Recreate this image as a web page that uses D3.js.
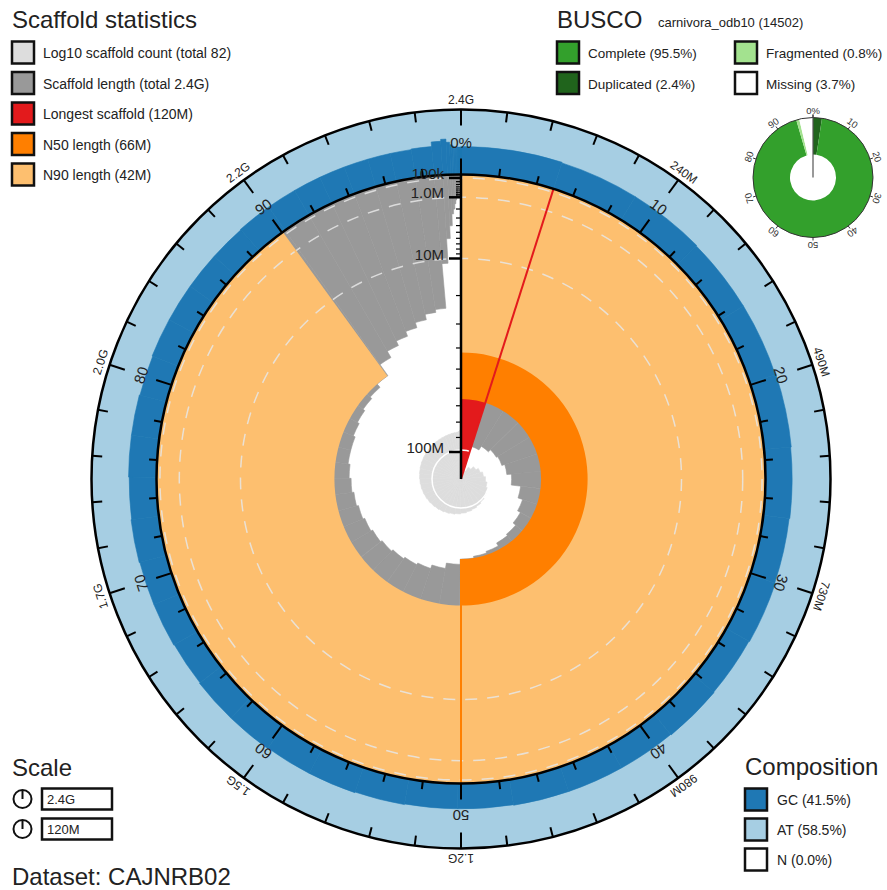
<!DOCTYPE html>
<html><head><meta charset="utf-8">
<script src="https://cdn.jsdelivr.net/npm/d3@7"></script>
<style>
body{margin:0;background:#fff}
text{font-family:"Liberation Sans",Arial,Helvetica,sans-serif}
</style>
</head><body>
<svg id="chart" width="887" height="890"></svg>
<script>
// ---------------- DATA ----------------
// scaffold lengths (Mb), sorted longest first (82 scaffolds, total ~2.44 Gb)
const scaffoldLengthsMb = [120,95,92,90,89,87,84,78,75,73,71,70,68,67,66,63,60,58,57,56,55,54,53,52,51,50,49,48,48,47,46,45,44,42,36,33,31,29,27,25,24,11,6,4,2.5,2,1.5,1.2,1.0,0.8,0.5,0.4,0.35,0.3,0.28,0.25,0.22,0.2,0.18,0.16,0.15,0.14,0.13,0.12,0.11,0.1,0.09,0.08,0.07,0.06,0.06,0.05,0.05,0.04,0.04,0.03,0.03,0.03,0.02,0.02,0.02,0.02];
// GC fraction per scaffold
const scaffoldGC = [0.43,0.42,0.42,0.41,0.41,0.42,0.41,0.40,0.41,0.40,0.41,0.40,0.40,0.40,0.39,0.39,0.40,0.41,0.41,0.42,0.42,0.41,0.42,0.42,0.43,0.42,0.43,0.43,0.42,0.43,0.43,0.43,0.43,0.44,0.44,0.44,0.44,0.44,0.44,0.44,0.45,0.52,0.55,0.50,0.46,0.44,0.43,0.42,0.43,0.42,0.42,0.42,0.42,0.42,0.42,0.42,0.42,0.42,0.42,0.42,0.42,0.42,0.42,0.42,0.42,0.42,0.42,0.42,0.42,0.42,0.42,0.42,0.42,0.42,0.42,0.42,0.42,0.42,0.42,0.42,0.42,0.42];
const longestScaffold = 120e6, n50Length = 66e6, n90Length = 42e6;
const percentTicks = d3.range(0, 100, 2);
const percentLabels = ["0%","10","20","30","40","50","60","70","80","90"];
const lengthTickLabels = ["2.4G","240M","490M","730M","980M","1.2G","1.5G","1.7G","2.0G","2.2G"];
const radialTicks = [1e5,2e5,3e5,4e5,5e5,6e5,7e5,8e5,9e5,1e6,2e6,3e6,4e6,5e6,6e6,7e6,8e6,9e6,1e7,2e7,3e7,4e7,5e7,6e7,7e7,8e7,9e7,1e8];
const radialMajor = [1e5,1e6,1e7,1e8];
const radialLabels = ["100k","1.0M","10M","100M"];
const statsLegend = ["Log10 scaffold count (total 82)","Scaffold length (total 2.4G)","Longest scaffold (120M)","N50 length (66M)","N90 length (42M)"];
const statsColors = ["#dddddd","#999999","#e31a1c","#ff7f00","#fdbf6f"];
const buscoNames = ["Complete (95.5%)","Duplicated (2.4%)","Fragmented (0.8%)","Missing (3.7%)"];
const buscoColors = ["#33a02c","#20641c","#a3e28f","#ffffff"];
const buscoSlices = [2.4, 93.1, 0.8, 3.7]; // duplicated, complete single, fragmented, missing
const buscoSliceColors = ["#20641c","#33a02c","#a3e28f","#ffffff"];
const buscoLabels = ["0%","10","20","30","40","50","60","70","80","90"];
const compNames = ["GC (41.5%)","AT (58.5%)","N (0.0%)"];
const compColors = ["#1f78b4","#a6cee3","#ffffff"];
const scaleLabels = ["2.4G","120M"];

// ---------------- LAYOUT ----------------
const svg = d3.select("#chart");
const cx = 461, cy = 479, R = 304.5, R2 = 369.5;
const lengths = scaffoldLengthsMb.map(d => d * 1e6);
const total = d3.sum(lengths);
let cum = 0;
const scaffolds = lengths.map((L, i) => { const s = cum; cum += L; return {i: i + 1, L, s, e: cum, gc: scaffoldGC[i]}; });

const ang = d3.scaleLinear().domain([0, total]).range([0, 2 * Math.PI]);
const pctAng = d3.scaleLinear().domain([0, 100]).range([0, 2 * Math.PI]);
const rLen = d3.scaleSqrt().domain([0, longestScaffold]).range([R + 5.5, 0]).clamp(true);
const rad = L => Math.min(R, rLen(L));
const rCount = d3.scaleLog().domain([1, 10]).range([0, 29]);
const pt = (r, a) => [r * Math.sin(a), -r * Math.cos(a)];
const deg = a => a * 180 / Math.PI;

const g = svg.append("g").attr("transform", `translate(${cx},${cy})`);
const arc = d3.arc();

// composition ring
g.append("path").attr("d", arc({innerRadius: R, outerRadius: R2, startAngle: 0, endAngle: 2 * Math.PI})).attr("fill", compColors[1]);
g.selectAll("path.gc").data(scaffolds).join("path").attr("class", "gc")
  .attr("d", d => arc({innerRadius: R, outerRadius: R + (R2 - R) * d.gc, startAngle: ang(d.s), endAngle: ang(d.e)}))
  .attr("fill", compColors[0]).attr("stroke", compColors[0]).attr("stroke-width", 0.6);

// inner white disk
g.append("circle").attr("r", R).attr("fill", "#fff");

// scaffold length spiral
g.selectAll("path.len").data(scaffolds.filter(d => rad(d.L) < R)).join("path").attr("class", "len")
  .attr("d", d => arc({innerRadius: rad(d.L), outerRadius: R, startAngle: ang(d.s), endAngle: ang(d.e)}))
  .attr("fill", statsColors[1]).attr("stroke", statsColors[1]).attr("stroke-width", 0.6);

// longest, N50, N90 sectors
const sectors = [
  {L: longestScaffold, end: ang(longestScaffold), c: statsColors[2]},
  {L: n50Length, end: pctAng(50), c: statsColors[3]},
  {L: n90Length, end: pctAng(90), c: statsColors[4]}
];
g.selectAll("path.sec").data(sectors).join("path").attr("class", "sec")
  .attr("d", d => arc({innerRadius: rad(d.L), outerRadius: R, startAngle: 0, endAngle: d.end}))
  .attr("fill", d => d.c);

// count spiral
g.selectAll("path.cnt").data(scaffolds.filter(d => d.i > 1)).join("path").attr("class", "cnt")
  .attr("d", d => arc({innerRadius: 0, outerRadius: rCount(d.i), startAngle: ang(d.s), endAngle: ang(d.e)}))
  .attr("fill", statsColors[0]).attr("stroke", statsColors[0]).attr("stroke-width", 0.6);

// dashed length scale circles
g.selectAll("circle.dash").data(radialMajor.slice(0, 3)).join("circle").attr("class", "dash")
  .attr("r", d => rad(d)).attr("fill", "none").attr("stroke", "#e6e6e6").attr("stroke-opacity", 0.85)
  .attr("stroke-width", 1.5).attr("stroke-dasharray", "12,10");
// count scale line (10)
g.append("circle").attr("r", rCount(10)).attr("fill", "none").attr("stroke", "#fff").attr("stroke-width", 1.5);

// sector edge lines
sectors.forEach(d => {
  const a = d.end;
  const p1 = pt(rad(d.L), a), p2 = pt(R, a);
  g.append("line").attr("x1", p1[0]).attr("y1", p1[1]).attr("x2", p2[0]).attr("y2", p2[1])
    .attr("stroke", d.c).attr("stroke-width", 2);
});

// circles
g.append("circle").attr("r", R).attr("fill", "none").attr("stroke", "#000").attr("stroke-width", 2.5);
g.append("circle").attr("r", R2).attr("fill", "none").attr("stroke", "#000").attr("stroke-width", 2.5);

// percent ticks
percentTicks.forEach(p => {
  const a = pctAng(p), major = p % 10 === 0;
  const i1 = pt(R, a), i2 = pt(R + (major ? 16 : 8), a);
  g.append("line").attr("x1", i1[0]).attr("y1", i1[1]).attr("x2", i2[0]).attr("y2", i2[1]).attr("stroke", "#000").attr("stroke-width", 2);
  const o1 = pt(R2, a), o2 = pt(R2 - (major ? 16 : 10), a);
  g.append("line").attr("x1", o1[0]).attr("y1", o1[1]).attr("x2", o2[0]).attr("y2", o2[1]).attr("stroke", "#000").attr("stroke-width", 2);
});
percentLabels.forEach((t, k) => {
  const a = pctAng(k * 10), p = pt(331, a);
  g.append("text").attr("transform", `translate(${p[0]},${p[1]}) rotate(${deg(a)})`)
    .attr("text-anchor", "middle").attr("font-size", 15).attr("fill", "#222").text(t);
});
lengthTickLabels.forEach((t, k) => {
  const a = pctAng(k * 10), p = pt(375, a);
  g.append("text").attr("transform", `translate(${p[0]},${p[1]}) rotate(${deg(a)})`)
    .attr("text-anchor", "middle").attr("font-size", 12).attr("fill", "#222").text(t);
});

// radial axis
g.append("line").attr("x1", 0).attr("y1", 0).attr("x2", 0).attr("y2", -R).attr("stroke", "#000").attr("stroke-width", 2.5);
radialTicks.forEach(v => {
  const major = radialMajor.includes(v);
  g.append("line").attr("x1", 0).attr("x2", major ? -12 : -5).attr("y1", -rad(v)).attr("y2", -rad(v))
    .attr("stroke", "#000").attr("stroke-width", major ? 2.5 : 1.2);
});
radialMajor.forEach((v, k) => {
  g.append("text").attr("x", -17).attr("y", -rad(v) + 1).attr("text-anchor", "end")
    .attr("font-size", 15).attr("fill", "#222").text(radialLabels[k]);
});

// ---------------- BUSCO donut ----------------
const bg = svg.append("g").attr("transform", "translate(813,177.5)");
const bR = 60, bR0 = 23;
const pie = d3.pie().sort(null).value(d => d)(buscoSlices);
bg.selectAll("path").data(pie).join("path")
  .attr("d", d => d3.arc().innerRadius(bR0).outerRadius(bR)(d))
  .attr("fill", (d, i) => buscoSliceColors[i]);
bg.append("circle").attr("r", bR).attr("fill", "none").attr("stroke", "#333").attr("stroke-width", 1);
bg.append("line").attr("x1", 0).attr("y1", 0).attr("x2", 0).attr("y2", -bR - 3).attr("stroke", "#555").attr("stroke-width", 1.2);
d3.range(0, 100, 10).forEach(p => {
  const a = pctAng(p), p1 = pt(bR, a), p2 = pt(bR + 3, a);
  bg.append("line").attr("x1", p1[0]).attr("y1", p1[1]).attr("x2", p2[0]).attr("y2", p2[1]).attr("stroke", "#333").attr("stroke-width", 1);
});
buscoLabels.forEach((t, k) => {
  const a = pctAng(k * 10), p = pt(bR + 4, a);
  bg.append("text").attr("transform", `translate(${p[0]},${p[1]}) rotate(${deg(a)})`)
    .attr("text-anchor", "middle").attr("font-size", 9.5).attr("fill", "#333").text(t);
});

// ---------------- Legends ----------------
function box(x, y, c) {
  svg.append("rect").attr("x", x).attr("y", y).attr("width", 22).attr("height", 22)
    .attr("fill", c).attr("stroke", "#111").attr("stroke-width", 2.5);
}
function txt(x, y, t, size) {
  return svg.append("text").attr("x", x).attr("y", y).attr("font-size", size).attr("fill", "#222").text(t);
}
txt(12, 28, "Scaffold statistics", 24);
statsLegend.forEach((t, i) => { box(12, 41.5 + i * 30.5, statsColors[i]); txt(43, 58 + i * 30.5, t, 14); });

txt(557, 28, "BUSCO", 24);
txt(658, 27, "carnivora_odb10 (14502)", 13);
buscoNames.forEach((t, i) => {
  const col = i === 0 || i === 1 ? 0 : 1;
  const row = i === 0 || i === 2 ? 0 : 1;
  const x = col === 0 ? 557 : 735;
  box(x, 41.5 + row * 30.5, buscoColors[i]);
  txt(x + 31, 58 + row * 30.5, t, 13.5);
});

txt(745, 775, "Composition", 24);
compNames.forEach((t, i) => { box(745, 788.5 + i * 30, compColors[i]); txt(777, 805 + i * 30, t, 14); });

txt(12, 776, "Scale", 24);
scaleLabels.forEach((t, i) => {
  const y = 799 + i * 30;
  svg.append("circle").attr("cx", 22.5).attr("cy", y).attr("r", 9).attr("fill", "none").attr("stroke", "#111").attr("stroke-width", 2);
  svg.append("line").attr("x1", 22.5).attr("x2", 22.5).attr("y1", y).attr("y2", y - 9).attr("stroke", "#111").attr("stroke-width", 2);
  svg.append("rect").attr("x", 42).attr("y", y - 10.5).attr("width", 70).attr("height", 21).attr("fill", "#fff").attr("stroke", "#111").attr("stroke-width", 2.5);
  txt(47, y + 4.5, t, 13);
});

txt(12, 885, "Dataset: CAJNRB02", 24);
</script>
</body></html>
